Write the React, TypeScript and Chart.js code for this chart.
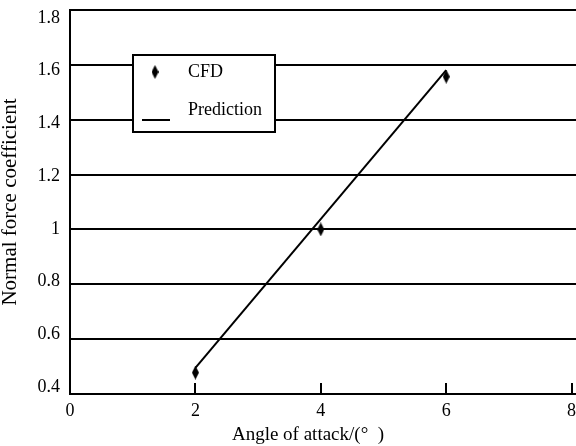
import React, { useEffect, useRef } from "react";
import { Chart, registerables } from "chart.js";

Chart.register(...registerables);

const cfdAngles = [2, 4, 6];
const cfdValues = [0.478, 1.0, 1.557];
const predAngles = [2, 6];
const predValues = [0.495, 1.581];
const xTicks = [0, 2, 4, 6, 8];
const yTicks = [0.4, 0.6, 0.8, 1.0, 1.2, 1.4, 1.6, 1.8];
const xTitle = "Angle of attack/(°  )";
const yTitle = "Normal force coefficient";
const legendLabels = ["CFD", "Prediction"];

const FONT = "'Liberation Serif', 'Times New Roman', serif";

function makeDiamond(): HTMLCanvasElement {
  const c = document.createElement("canvas");
  c.width = 7;
  c.height = 14;
  const g = c.getContext("2d")!;
  g.fillStyle = "#000";
  g.beginPath();
  g.moveTo(3.5, 0);
  g.lineTo(7, 7);
  g.lineTo(3.5, 14);
  g.lineTo(0, 7);
  g.closePath();
  g.fill();
  return c;
}

const fmt = (v: any) => String(Math.round(Number(v) * 10) / 10);

export default function App() {
  const ref = useRef<HTMLCanvasElement>(null);

  useEffect(() => {
    if (!ref.current) return;
    const diamond = makeDiamond();

    const overlay = {
      id: "overlay",
      afterDraw(chart: any) {
        const ctx = chart.ctx;
        const xs = chart.scales.x;
        const area = chart.chartArea;
        ctx.save();
        // inner tick marks
        ctx.strokeStyle = "#000";
        ctx.lineWidth = 2;
        [2, 4, 6, 8].forEach((v) => {
          const px = Math.round(xs.getPixelForValue(v));
          ctx.beginPath();
          ctx.moveTo(px, area.bottom);
          ctx.lineTo(px, area.bottom - 11);
          ctx.stroke();
        });
        // x title
        ctx.fillStyle = "#000";
        ctx.font = `19px ${FONT}`;
        ctx.textAlign = "center";
        ctx.textBaseline = "middle";
        ctx.fillText(xTitle, 308, 435);
        // legend box
        const bx = 133, by = 55, bw = 142, bh = 77;
        ctx.fillStyle = "#fff";
        ctx.fillRect(bx, by, bw, bh);
        ctx.strokeStyle = "#000";
        ctx.lineWidth = 2;
        ctx.strokeRect(bx, by, bw, bh);
        ctx.drawImage(diamond, 155 - 3.5, 72 - 7);
        ctx.beginPath();
        ctx.moveTo(142, 120);
        ctx.lineTo(170, 120);
        ctx.stroke();
        ctx.fillStyle = "#000";
        ctx.font = `18px ${FONT}`;
        ctx.textAlign = "left";
        ctx.fillText(legendLabels[0], 188, 72);
        ctx.fillText(legendLabels[1], 188, 110);
        ctx.restore();
      },
    };

    const chart = new Chart(ref.current, {
      type: "scatter",
      data: {
        datasets: [
          {
            label: legendLabels[0],
            data: cfdAngles.map((x, i) => ({ x, y: cfdValues[i] })),
            pointStyle: diamond as any,
            pointRadius: 7,
            backgroundColor: "#000",
            borderColor: "#000",
          },
          {
            type: "line",
            label: legendLabels[1],
            data: predAngles.map((x, i) => ({ x, y: predValues[i] })),
            borderColor: "#000",
            borderWidth: 2,
            pointRadius: 0,
            showLine: true,
            fill: false,
          } as any,
        ],
      },
      options: {
        responsive: false,
        animation: false,
        layout: { autoPadding: false, padding: { top: 10, right: 0, left: 0, bottom: 0 } },
        plugins: {
          legend: { display: false },
          tooltip: { enabled: false },
        },
        scales: {
          x: {
            type: "linear",
            min: 0,
            max: 8.07,
            afterBuildTicks: (s: any) => {
              s.ticks = xTicks.map((v) => ({ value: v }));
            },
            afterFit: (s: any) => {
              s.height = 52;
              s.paddingLeft = 0;
              s.paddingRight = 0;
            },
            grid: { display: false },
            border: { color: "#000", width: 2 },
            ticks: {
              color: "#000",
              font: { family: FONT, size: 18 },
              padding: -2,
              maxRotation: 0,
              autoSkip: false,
            },
          },
          y: {
            type: "linear",
            position: "left",
            weight: 0,
            min: 0.4,
            max: 1.8,
            afterBuildTicks: (s: any) => {
              s.ticks = yTicks.map((v) => ({ value: v }));
            },
            afterFit: (s: any) => {
              s.width = 0;
              s.paddingTop = 0;
              s.paddingBottom = 0;
            },
            grid: { color: "#000", lineWidth: 2, drawTicks: false },
            border: { color: "#000", width: 2 },
            ticks: { display: false },
          },
          yLabels: {
            type: "linear",
            axis: "y",
            position: "left",
            weight: 1,
            min: 0.3734,
            max: 1.8304,
            afterBuildTicks: (s: any) => {
              s.ticks = yTicks.map((v) => ({ value: v }));
            },
            afterFit: (s: any) => {
              s.width = 70;
              s.paddingTop = 0;
              s.paddingBottom = 0;
            },
            grid: { display: false, drawTicks: false },
            border: { display: false },
            ticks: {
              color: "#000",
              font: { family: FONT, size: 18 },
              padding: 10,
              callback: fmt,
            },
            title: {
              display: true,
              text: yTitle,
              color: "#000",
              font: { family: FONT, size: 21, lineHeight: 1.0 },
              padding: { top: 0, bottom: 0 },
            },
          },
        },
      },
      plugins: [overlay],
    });
    return () => chart.destroy();
  }, []);

  return (
    <div style={{ position: "absolute", left: 0, top: 0, width: 576, height: 446, background: "#fff" }}>
      <canvas ref={ref} width={576} height={446} style={{ display: "block" }} />
    </div>
  );
}
